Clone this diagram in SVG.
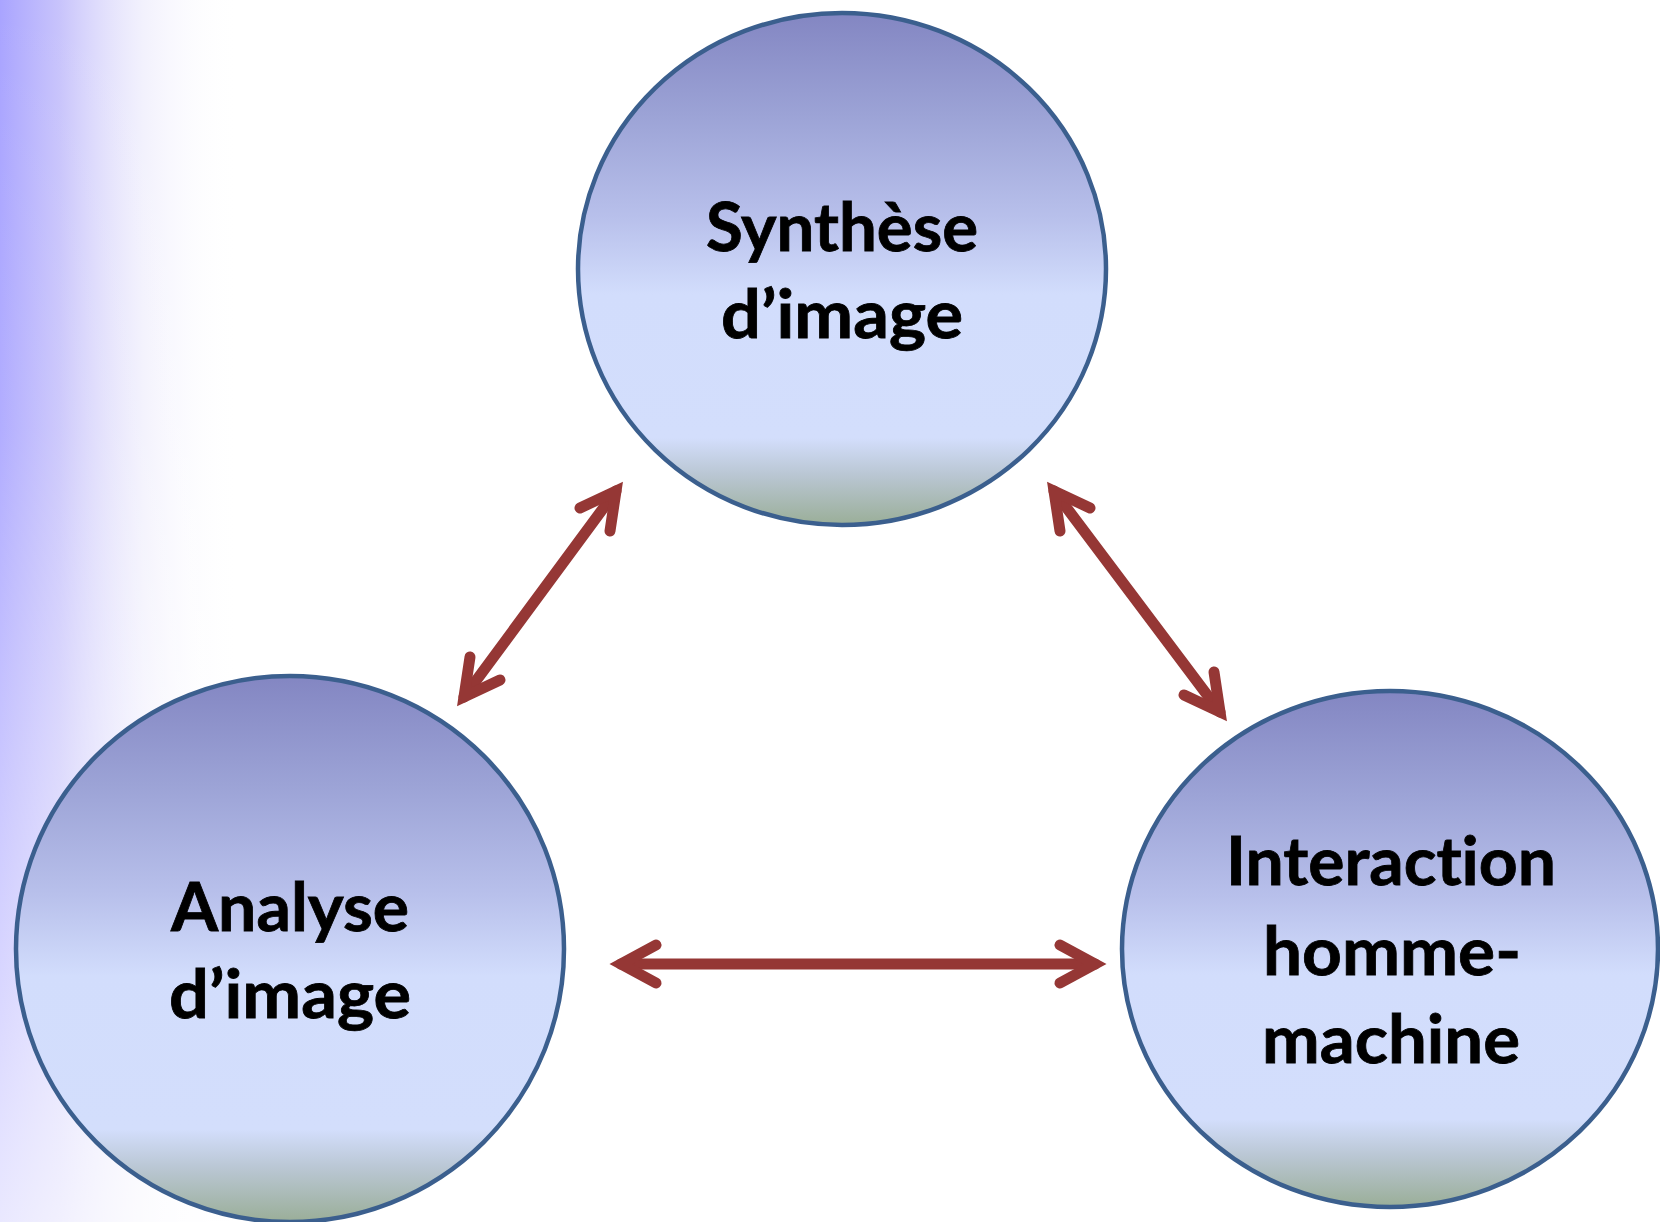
<svg xmlns="http://www.w3.org/2000/svg" width="1660" height="1222" viewBox="0 0 1660 1222">
  <defs>
    <linearGradient id="bgH" x1="0" y1="0" x2="1" y2="0">
      <stop offset="0" stop-color="#a9a4ff" stop-opacity="1"/>
      <stop offset="0.25" stop-color="#c2bdfb" stop-opacity="0.9"/>
      <stop offset="0.6" stop-color="#e6e4fb" stop-opacity="0.5"/>
      <stop offset="1" stop-color="#ffffff" stop-opacity="0"/>
    </linearGradient>
    <linearGradient id="bgV" x1="0" y1="0" x2="0" y2="1">
      <stop offset="0" stop-color="#ffffff" stop-opacity="0"/>
      <stop offset="0.35" stop-color="#ffffff" stop-opacity="0.1"/>
      <stop offset="1" stop-color="#ffffff" stop-opacity="0.75"/>
    </linearGradient>
    <linearGradient id="nodeFill" x1="0" y1="0" x2="0" y2="1">
      <stop offset="0" stop-color="#8386c2"/>
      <stop offset="0.2" stop-color="#9ca3d6"/>
      <stop offset="0.4" stop-color="#b8c0eb"/>
      <stop offset="0.55" stop-color="#d2ddfc"/>
      <stop offset="0.83" stop-color="#d3defc"/>
      <stop offset="0.9" stop-color="#bac7d4"/>
      <stop offset="1" stop-color="#9aae98"/>
    </linearGradient>
  </defs>
  <style>
    .node ellipse { fill: url(#nodeFill); stroke: #3b5f8e; stroke-width: 4.5; }
    .label { font-family: Lato, "Open Sans", "Liberation Sans", sans-serif; font-weight: bold; font-size: 66px; fill: #000000; stroke: #000000; stroke-width: 0.8; text-anchor: middle; font-variant-ligatures: none; font-feature-settings: "liga" 0, "clig" 0; }
    .conn path { fill: none; stroke: #953735; stroke-width: 11; stroke-linecap: round; stroke-linejoin: miter; stroke-miterlimit: 6; }
  </style>

  <rect x="0" y="0" width="1660" height="1222" fill="#ffffff"/>
  <rect x="0" y="0" width="240" height="1222" fill="url(#bgH)"/>
  <rect x="0" y="0" width="240" height="1222" fill="url(#bgV)"/>

  <g id="connectors" class="conn">
    <!-- Analyse <-> Synthese -->
    <path d="M464,697 L616,491"/>
    <path d="M580,508 L616,491 L610,531"/>
    <path d="M500,680 L464,697 L470,657"/>
    <!-- Synthese <-> Interaction -->
    <path d="M1054,491 L1220,712"/>
    <path d="M1090,508 L1054,491 L1060,531"/>
    <path d="M1184,695 L1220,712 L1214,672"/>
    <!-- Analyse <-> Interaction -->
    <path d="M621,964 L1095,964"/>
    <path d="M656,945 L621,964 L656,983"/>
    <path d="M1060,945 L1095,964 L1060,983"/>
  </g>

  <g id="node-synthese" class="node">
    <ellipse cx="842" cy="269" rx="264" ry="256"/>
    <text class="label" x="842" y="251" textLength="272" lengthAdjust="spacingAndGlyphs">Synthèse</text>
    <text class="label" x="842" y="338" textLength="242" lengthAdjust="spacingAndGlyphs">d’image</text>
  </g>

  <g id="node-analyse" class="node">
    <ellipse cx="290" cy="949" rx="274" ry="273"/>
    <text class="label" x="290" y="931" textLength="238" lengthAdjust="spacingAndGlyphs">Analyse</text>
    <text class="label" x="290" y="1018" textLength="242" lengthAdjust="spacingAndGlyphs">d’image</text>
  </g>

  <g id="node-interaction" class="node">
    <ellipse cx="1390" cy="949" rx="268" ry="258"/>
    <text class="label" x="1391" y="885" textLength="330" lengthAdjust="spacingAndGlyphs">Interaction</text>
    <text class="label" x="1392" y="975" textLength="258" lengthAdjust="spacingAndGlyphs">homme-</text>
    <text class="label" x="1391" y="1063" textLength="258" lengthAdjust="spacingAndGlyphs">machine</text>
  </g>
</svg>
